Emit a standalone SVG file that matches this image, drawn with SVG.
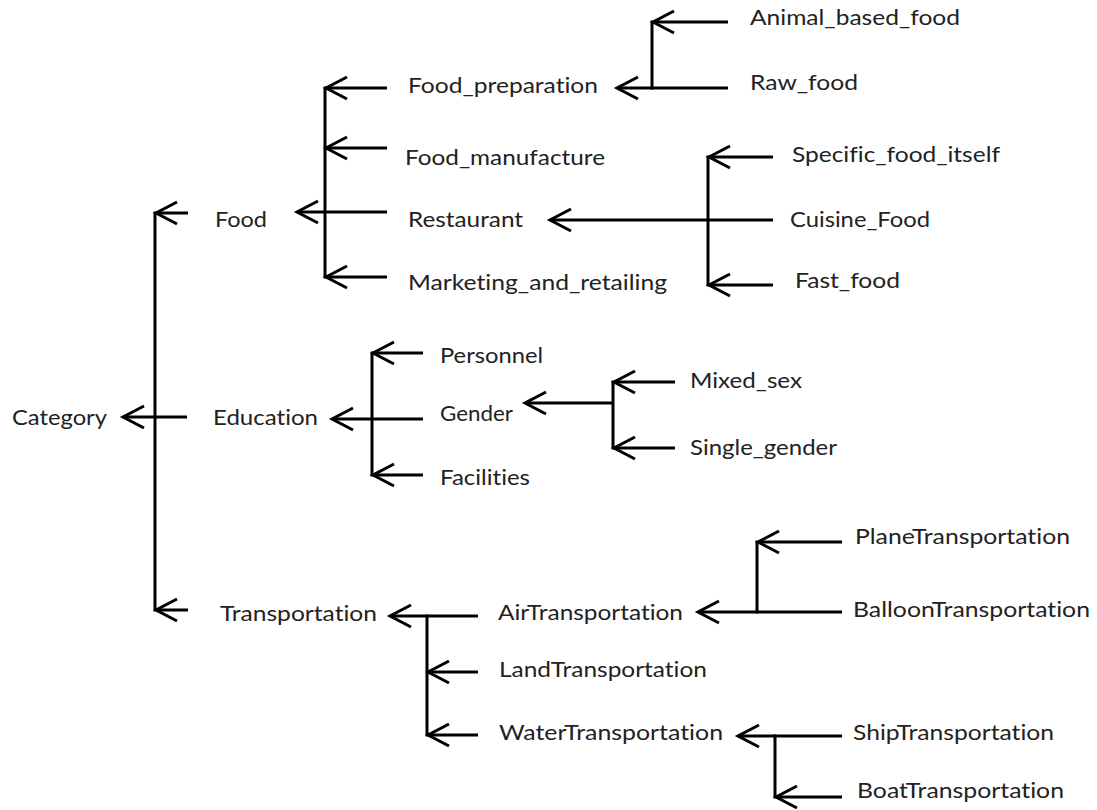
<svg xmlns="http://www.w3.org/2000/svg" width="1097" height="810" viewBox="0 0 1097 810">
<style>
  .bg { fill: #ffffff; }
  .lbl { font-family: Lato, "Open Sans", "Liberation Sans", sans-serif; font-size: 21px; fill: #222222; font-variant-ligatures: none; font-feature-settings: "liga" 0, "clig" 0; }
  .c { stroke: #000000; stroke-width: 3; fill: none; }
  .bus { stroke: #000000; stroke-width: 3; fill: none; stroke-linecap: square; }
</style>
<defs>
  <marker id="arr" markerUnits="userSpaceOnUse" markerWidth="40" markerHeight="40" refX="0" refY="0" orient="auto" viewBox="-30 -20 40 40" overflow="visible">
    <path d="M -21 -11 L 0 0 L -21 11" fill="none" stroke="#000000" stroke-width="3" stroke-linejoin="miter"/>
  </marker>
</defs>
<rect class="bg" x="0" y="0" width="1097" height="810"/>

<g id="connectors">
  <!-- Category -->
  <line class="bus" x1="155" y1="213" x2="155" y2="610"/>
  <line class="c" x1="188" y1="213" x2="156" y2="213" marker-end="url(#arr)"/>
  <line class="c" x1="187" y1="417" x2="123" y2="417" marker-end="url(#arr)"/>
  <line class="c" x1="188" y1="610" x2="156" y2="610" marker-end="url(#arr)"/>
  <!-- Food -->
  <line class="bus" x1="325" y1="88" x2="325" y2="277"/>
  <line class="c" x1="387" y1="88" x2="326" y2="88" marker-end="url(#arr)"/>
  <line class="c" x1="387" y1="148" x2="326" y2="148" marker-end="url(#arr)"/>
  <line class="c" x1="387" y1="212" x2="297" y2="212" marker-end="url(#arr)"/>
  <line class="c" x1="387" y1="277" x2="326" y2="277" marker-end="url(#arr)"/>
  <!-- Food_preparation -->
  <line class="bus" x1="652" y1="22" x2="652" y2="88"/>
  <line class="c" x1="728" y1="22" x2="653" y2="22" marker-end="url(#arr)"/>
  <line class="c" x1="728" y1="88" x2="617" y2="88" marker-end="url(#arr)"/>
  <!-- Restaurant -->
  <line class="bus" x1="708" y1="157" x2="708" y2="285"/>
  <line class="c" x1="773" y1="157" x2="709" y2="157" marker-end="url(#arr)"/>
  <line class="c" x1="773" y1="220" x2="550" y2="220" marker-end="url(#arr)"/>
  <line class="c" x1="773" y1="285" x2="709" y2="285" marker-end="url(#arr)"/>
  <!-- Education -->
  <line class="bus" x1="372" y1="353" x2="372" y2="475"/>
  <line class="c" x1="423" y1="353" x2="373" y2="353" marker-end="url(#arr)"/>
  <line class="c" x1="423" y1="419" x2="332" y2="419" marker-end="url(#arr)"/>
  <line class="c" x1="423" y1="475" x2="373" y2="475" marker-end="url(#arr)"/>
  <!-- Gender -->
  <line class="bus" x1="613" y1="382" x2="613" y2="448"/>
  <line class="c" x1="675" y1="382" x2="614" y2="382" marker-end="url(#arr)"/>
  <line class="c" x1="613" y1="403" x2="525" y2="403" marker-end="url(#arr)"/>
  <line class="c" x1="675" y1="448" x2="614" y2="448" marker-end="url(#arr)"/>
  <!-- Transportation -->
  <line class="bus" x1="427" y1="616" x2="427" y2="735"/>
  <line class="c" x1="478" y1="616" x2="390" y2="616" marker-end="url(#arr)"/>
  <line class="c" x1="478" y1="672" x2="428" y2="672" marker-end="url(#arr)"/>
  <line class="c" x1="478" y1="735" x2="428" y2="735" marker-end="url(#arr)"/>
  <!-- AirTransportation -->
  <line class="bus" x1="757" y1="542" x2="757" y2="612"/>
  <line class="c" x1="842" y1="542" x2="758" y2="542" marker-end="url(#arr)"/>
  <line class="c" x1="842" y1="612" x2="698" y2="612" marker-end="url(#arr)"/>
  <!-- WaterTransportation -->
  <line class="bus" x1="775" y1="736" x2="775" y2="797"/>
  <line class="c" x1="842" y1="736" x2="738" y2="736" marker-end="url(#arr)"/>
  <line class="c" x1="842" y1="797" x2="776" y2="797" marker-end="url(#arr)"/>
</g>

<g id="node-category"><text class="lbl" x="12" y="425" textLength="95" lengthAdjust="spacingAndGlyphs">Category</text></g>
<g id="node-food"><text class="lbl" x="215" y="227" textLength="52" lengthAdjust="spacingAndGlyphs">Food</text></g>
<g id="node-education"><text class="lbl" x="213" y="425" textLength="105" lengthAdjust="spacingAndGlyphs">Education</text></g>
<g id="node-transportation"><text class="lbl" x="220" y="621" textLength="157" lengthAdjust="spacingAndGlyphs">Transportation</text></g>

<g id="node-food-preparation"><text class="lbl" x="408" y="93" textLength="190" lengthAdjust="spacingAndGlyphs">Food_preparation</text></g>
<g id="node-food-manufacture"><text class="lbl" x="405" y="165" textLength="200" lengthAdjust="spacingAndGlyphs">Food_manufacture</text></g>
<g id="node-restaurant"><text class="lbl" x="408" y="227" textLength="115" lengthAdjust="spacingAndGlyphs">Restaurant</text></g>
<g id="node-marketing"><text class="lbl" x="408" y="290" textLength="259" lengthAdjust="spacingAndGlyphs">Marketing_and_retailing</text></g>

<g id="node-animal-based-food"><text class="lbl" x="750" y="25" textLength="210" lengthAdjust="spacingAndGlyphs">Animal_based_food</text></g>
<g id="node-raw-food"><text class="lbl" x="750" y="90" textLength="108" lengthAdjust="spacingAndGlyphs">Raw_food</text></g>

<g id="node-specific-food"><text class="lbl" x="792" y="162" textLength="208" lengthAdjust="spacingAndGlyphs">Specific_food_itself</text></g>
<g id="node-cuisine-food"><text class="lbl" x="790" y="227" textLength="140" lengthAdjust="spacingAndGlyphs">Cuisine_Food</text></g>
<g id="node-fast-food"><text class="lbl" x="795" y="288" textLength="105" lengthAdjust="spacingAndGlyphs">Fast_food</text></g>

<g id="node-personnel"><text class="lbl" x="440" y="363" textLength="103" lengthAdjust="spacingAndGlyphs">Personnel</text></g>
<g id="node-gender"><text class="lbl" x="440" y="421" textLength="73" lengthAdjust="spacingAndGlyphs">Gender</text></g>
<g id="node-facilities"><text class="lbl" x="440" y="485" textLength="90" lengthAdjust="spacingAndGlyphs">Facilities</text></g>
<g id="node-mixed-sex"><text class="lbl" x="690" y="388" textLength="112" lengthAdjust="spacingAndGlyphs">Mixed_sex</text></g>
<g id="node-single-gender"><text class="lbl" x="690" y="455" textLength="147" lengthAdjust="spacingAndGlyphs">Single_gender</text></g>

<g id="node-air"><text class="lbl" x="498" y="620" textLength="185" lengthAdjust="spacingAndGlyphs">AirTransportation</text></g>
<g id="node-land"><text class="lbl" x="499" y="677" textLength="208" lengthAdjust="spacingAndGlyphs">LandTransportation</text></g>
<g id="node-water"><text class="lbl" x="499" y="740" textLength="224" lengthAdjust="spacingAndGlyphs">WaterTransportation</text></g>
<g id="node-plane"><text class="lbl" x="855" y="544" textLength="215" lengthAdjust="spacingAndGlyphs">PlaneTransportation</text></g>
<g id="node-balloon"><text class="lbl" x="853" y="617" textLength="237" lengthAdjust="spacingAndGlyphs">BalloonTransportation</text></g>
<g id="node-ship"><text class="lbl" x="853" y="740" textLength="201" lengthAdjust="spacingAndGlyphs">ShipTransportation</text></g>
<g id="node-boat"><text class="lbl" x="857" y="798" textLength="207" lengthAdjust="spacingAndGlyphs">BoatTransportation</text></g>
</svg>
